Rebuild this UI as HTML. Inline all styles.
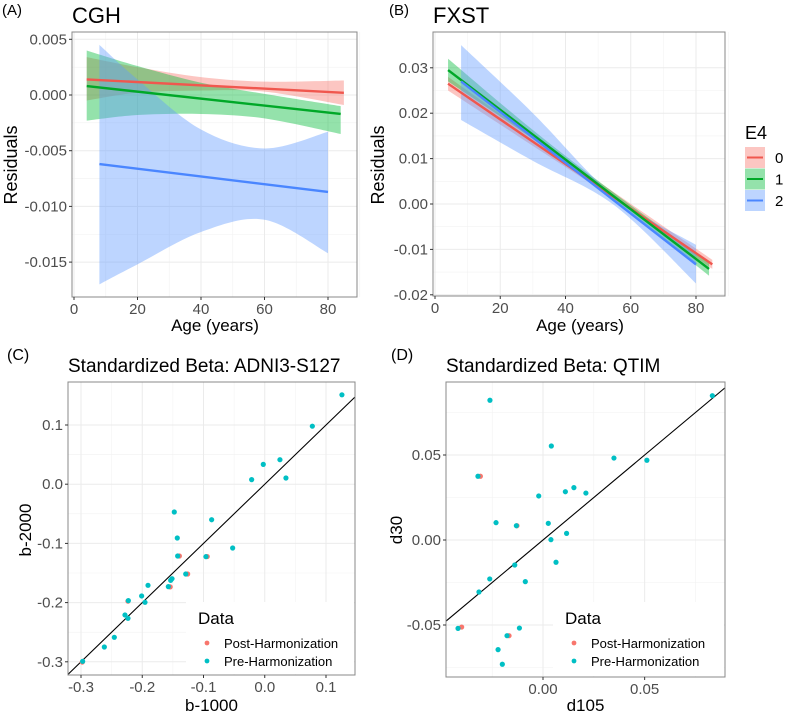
<!DOCTYPE html>
<html><head><meta charset="utf-8"><style>
body{margin:0;background:#fff;}
svg{display:block;font-family:"Liberation Sans",Arial,sans-serif;}
</style></head><body>
<svg id="fig" width="785" height="715" viewBox="0 0 785 715"></svg>
<script>
// ---------- data: panel A (CGH) ----------
const aGroups = ['0','1','2'];
const aLineAge = [[4,85],[4,84],[8,80]];
const aLineVal = [[0.0014,0.0002],[0.0008,-0.0017],[-0.0062,-0.0087]];
const aBandAge = [[4,20,40,60,85],[4,20,40,60,84],[8,20,40,60,80]];
const aBandUp = [[0.0034,0.0025,0.0016,0.0012,0.0013],[0.0040,0.0026,0.0011,0.0001,-0.0010],[0.0045,0.0014,-0.0031,-0.0048,-0.0033]];
const aBandLo = [[-0.0005,0.0002,0.0004,0.0003,-0.0009],[-0.0023,-0.0018,-0.0017,-0.0021,-0.0035],[-0.0170,-0.0152,-0.0123,-0.0112,-0.0142]];
const aYTicks = [0.005,0,-0.005,-0.01,-0.015];
const aYLabels = ['0.005','0.000','-0.005','-0.010','-0.015'];
const ageTicks = [0,20,40,60,80];
// ---------- data: panel B (FXST) ----------
const bLineAge = [[4,85],[4,84],[8,80]];
const bLineVal = [[0.0265,-0.0133],[0.0295,-0.0143],[0.027,-0.0133]];
const bBandAge = [[4,30,55,85],[4,30,55,84],[8,30,55,80]];
const bBandUp = [[0.028,0.0148,0.0025,-0.0123],[0.032,0.0163,0.0024,-0.0128],[0.035,0.020,0.0017,-0.009]];
const bBandLo = [[0.025,0.0128,0.0010,-0.0143],[0.027,0.0143,0.0008,-0.0158],[0.0185,0.0095,-0.0003,-0.0175]];
const bYTicks = [0.03,0.02,0.01,0,-0.01,-0.02];
const bYLabels = ['0.03','0.02','0.01','0.00','-0.01','-0.02'];
// ---------- data: panel C ----------
const cPreX = [0.126,0.0777,-0.0024,0.0248,0.0346,-0.0214,-0.1477,-0.0867,-0.1428,-0.1422,-0.096,-0.0524,-0.129,-0.1514,-0.1536,-0.1574,-0.1906,-0.201,-0.1955,-0.2227,-0.2233,-0.2282,-0.2456,-0.2619,-0.2973];
const cPreY = [0.151,0.098,0.0335,0.0414,0.0105,0.0077,-0.047,-0.060,-0.0909,-0.1213,-0.1224,-0.1078,-0.1517,-0.1596,-0.1624,-0.173,-0.1708,-0.1888,-0.1995,-0.1967,-0.2265,-0.2209,-0.2586,-0.275,-0.2992];
const cPostX = [-0.2995,-0.2250,-0.0955,-0.1560,-0.1410,-0.1275];
const cPostY = [-0.3005,-0.1975,-0.1222,-0.1735,-0.1213,-0.1517];
const cXTicks = [-0.3,-0.2,-0.1,0,0.1];
const cXLabels = ['-0.3','-0.2','-0.1','0.0','0.1'];
const cYTicks = [0.1,0,-0.1,-0.2,-0.3];
const cYLabels = ['0.1','0.0','-0.1','-0.2','-0.3'];
// ---------- data: panel D ----------
const dPreX = [0.0833,-0.0261,0.0041,0.0349,0.0511,-0.032,0.0152,0.011,0.0211,-0.0021,-0.0231,-0.0131,0.0026,0.0116,0.0039,0.0064,-0.0139,-0.0262,-0.0087,-0.0315,-0.0418,-0.0116,-0.0177,-0.0221,-0.02];
const dPreY = [0.0849,0.0822,0.0553,0.0482,0.0469,0.0375,0.0308,0.0284,0.0276,0.0259,0.0102,0.0084,0.0098,0.0039,0.0002,-0.0131,-0.0147,-0.0229,-0.0245,-0.0306,-0.052,-0.0518,-0.0563,-0.0645,-0.0731];
const dPostX = [-0.0405,-0.0313,-0.0133,-0.0172];
const dPostY = [-0.0512,0.0375,0.0084,-0.0563];
const dXTicks = [0,0.05];
const dXLabels = ['0.00','0.05'];
const dYTicks = [0.05,0,-0.05];
const dYLabels = ['0.05','0.00','-0.05'];

const COLS = ['#F8766D','#00BA38','#619CFF'];
const LCOLS = ['#F0574E','#00A828','#4A86FF'];
const TEAL = '#00BFC4';
const svg = document.getElementById('fig');
const NS = 'http://www.w3.org/2000/svg';
function mk(tag, attrs, parent){
  const e = document.createElementNS(NS, tag);
  for (const k in attrs) e.setAttribute(k, attrs[k]);
  (parent||svg).appendChild(e);
  return e;
}
function txt(s, x, y, size, anchor, fill, parent, rot){
  const t = mk('text', {x:x, y:y, 'font-size':size, 'text-anchor':anchor||'start', fill:fill||'#000'}, parent);
  if (rot) t.setAttribute('transform', 'rotate(-90 '+x+' '+y+')');
  t.textContent = s;
  return t;
}
function smoothPath(pts){
  let d = 'M'+pts[0][0]+','+pts[0][1];
  for (let i=0;i<pts.length-1;i++){
    const p0=pts[Math.max(0,i-1)], p1=pts[i], p2=pts[i+1], p3=pts[Math.min(pts.length-1,i+2)];
    const c1=[p1[0]+(p2[0]-p0[0])/6, p1[1]+(p2[1]-p0[1])/6];
    const c2=[p2[0]-(p3[0]-p1[0])/6, p2[1]-(p3[1]-p1[1])/6];
    d += ' C'+c1[0]+','+c1[1]+' '+c2[0]+','+c2[1]+' '+p2[0]+','+p2[1];
  }
  return d;
}
function panelFrame(g, box, xs, ys, xTicks, xLabels, yTicks, yLabels, xMinor, yMinor){
  mk('rect',{x:box.x0,y:box.y0,width:box.x1-box.x0,height:box.y1-box.y0,fill:'#fff'},g);
  xMinor.forEach(v=>mk('line',{x1:xs(v),x2:xs(v),y1:box.y0,y2:box.y1,stroke:'#F2F2F2','stroke-width':0.6},g));
  yMinor.forEach(v=>mk('line',{y1:ys(v),y2:ys(v),x1:box.x0,x2:box.x1,stroke:'#F2F2F2','stroke-width':0.6},g));
  xTicks.forEach(v=>mk('line',{x1:xs(v),x2:xs(v),y1:box.y0,y2:box.y1,stroke:'#EBEBEB','stroke-width':1},g));
  yTicks.forEach(v=>mk('line',{y1:ys(v),y2:ys(v),x1:box.x0,x2:box.x1,stroke:'#EBEBEB','stroke-width':1},g));
}
function panelAxes(g, box, xs, ys, xTicks, xLabels, yTicks, yLabels){
  mk('rect',{x:box.x0,y:box.y0,width:box.x1-box.x0,height:box.y1-box.y0,fill:'none',stroke:'#888','stroke-width':1},g);
  xTicks.forEach((v,i)=>{
    mk('line',{x1:xs(v),x2:xs(v),y1:box.y1,y2:box.y1+3,stroke:'#333'},g);
    const t=txt(xLabels[i], xs(v), box.y1+17, 15, 'middle', '#4D4D4D', g);
     
  });
  yTicks.forEach((v,i)=>{
    mk('line',{x1:box.x0-3,x2:box.x0,y1:ys(v),y2:ys(v),stroke:'#333'},g);
    const t=txt(yLabels[i], box.x0-5, ys(v)+5, 15, 'end', '#4D4D4D', g);
     
  });
}
function mids(arr){const r=[];for(let i=0;i<arr.length-1;i++)r.push((arr[i]+arr[i+1])/2);return r;}

// ---------- Panel A ----------
(function(){
  const g = mk('g',{});
   
  const box={x0:72,x1:357,y0:32,y1:297};
  const xs=v=>74+v*3.175, ys=v=>95-v/0.005*55.7;
  panelFrame(g,box,xs,ys,ageTicks,[],aYTicks,[],mids(ageTicks).concat([90]),mids(aYTicks));
  for(let k=0;k<3;k++){
    const up=aBandAge[k].map((a,i)=>[xs(a),ys(aBandUp[k][i])]);
    const lo=aBandAge[k].map((a,i)=>[xs(a),ys(aBandLo[k][i])]).reverse();
    const d=smoothPath(up)+' L'+lo[0][0]+','+lo[0][1]+smoothPath(lo).replace(/^M[^C]*/,' ')+' Z';
    const b=mk('path',{d:d,fill:COLS[k],'fill-opacity':0.42,stroke:'none'},g);
     
  }
  for(let k=0;k<3;k++){
    const l=mk('line',{x1:xs(aLineAge[k][0]),y1:ys(aLineVal[k][0]),x2:xs(aLineAge[k][1]),y2:ys(aLineVal[k][1]),stroke:LCOLS[k],'stroke-width':2.4},g);
     
  }
  panelAxes(g,box,xs,ys,ageTicks,['0','20','40','60','80'],aYTicks,aYLabels);
  let t=txt('(A)',2,15,15,'start','#000',g);  
  t=txt('CGH',72,23,22,'start','#000',g);  
  t=txt('Residuals',17,165,18,'middle','#000',g,true);  
  t=txt('Age (years)',215,331,17,'middle','#000',g);  
})();

// ---------- Panel B ----------
(function(){
  const g = mk('g',{});
   
  const box={x0:433,x1:725,y0:32,y1:296};
  const xs=v=>435+v*3.2625, ys=v=>204-v/0.01*45.4;
  panelFrame(g,box,xs,ys,ageTicks,[],bYTicks,[],mids(ageTicks).concat([90]),mids(bYTicks));
  for(let k=0;k<3;k++){
    const up=bBandAge[k].map((a,i)=>[xs(a),ys(bBandUp[k][i])]);
    const lo=bBandAge[k].map((a,i)=>[xs(a),ys(bBandLo[k][i])]).reverse();
    const d=smoothPath(up)+' L'+lo[0][0]+','+lo[0][1]+smoothPath(lo).replace(/^M[^C]*/,' ')+' Z';
    const b=mk('path',{d:d,fill:COLS[k],'fill-opacity':0.42,stroke:'none'},g);
     
  }
  for(let k=0;k<3;k++){
    const l=mk('line',{x1:xs(bLineAge[k][0]),y1:ys(bLineVal[k][0]),x2:xs(bLineAge[k][1]),y2:ys(bLineVal[k][1]),stroke:LCOLS[k],'stroke-width':2.4},g);
     
  }
  panelAxes(g,box,xs,ys,ageTicks,['0','20','40','60','80'],bYTicks,bYLabels);
  let t=txt('(B)',389,15,15,'start','#000',g);  
  t=txt('FXST',433,23,22,'start','#000',g);  
  t=txt('Residuals',384,165,18,'middle','#000',g,true);  
  t=txt('Age (years)',580,331,17,'middle','#000',g);  
  const lg=mk('g',{},g);  
  t=txt('E4',745,139,18,'start','#000',lg);   
  for(let k=0;k<3;k++){
    const y=147+k*21.5;
    const e=mk('g',{},lg);  
    mk('rect',{x:745,y:y,width:20,height:21,fill:COLS[k],'fill-opacity':0.42},e);
    mk('line',{x1:747,x2:763,y1:y+10.5,y2:y+10.5,stroke:LCOLS[k],'stroke-width':2},e);
    txt(aGroups[k],775,y+16,15,'start','#000',e);
  }
})();

// ---------- scatter panel builder ----------
function scatterPanel(opts){
  const g=mk('g',{});  
  const box=opts.box, xs=opts.xs, ys=opts.ys;
  panelFrame(g,box,xs,ys,opts.xT,[],opts.yT,[],opts.xMinor,opts.yMinor);
  const cp=mk('clipPath',{id:opts.name+'-clip'},g);
  mk('rect',{x:box.x0,y:box.y0,width:box.x1-box.x0,height:box.y1-box.y0},cp);
  const l=mk('line',{x1:xs(opts.lineLo),y1:ys(opts.lineLo),x2:xs(opts.lineHi),y2:ys(opts.lineHi),stroke:'#000','stroke-width':1.1,'clip-path':'url(#'+opts.name+'-clip)'},g);
   
  const lg=mk('g',{},g);  
  mk('rect',{x:opts.leg.x-12,y:opts.leg.y-22,width:box.x1-opts.leg.x+11,height:box.y1-opts.leg.y+21,fill:'#fff'},lg);
  opts.postX.forEach((v,i)=>{
    const c=mk('circle',{cx:xs(v)+1,cy:ys(opts.postY[i]),r:2.6,fill:'#F8766D'},g);
     
  });
  opts.preX.forEach((v,i)=>{
    const c=mk('circle',{cx:xs(v),cy:ys(opts.preY[i]),r:2.6,fill:TEAL},g);
     
  });
  txt('Data',opts.leg.x,opts.leg.y,17,'start','#000',lg);
  const e1=mk('g',{},lg);  
  mk('circle',{cx:opts.leg.x+9,cy:opts.leg.y+19,r:2.4,fill:'#F8766D'},e1);
  txt('Post-Harmonization',opts.leg.x+26,opts.leg.y+24,13,'start','#000',e1);
  const e2=mk('g',{},lg);  
  mk('circle',{cx:opts.leg.x+9,cy:opts.leg.y+37,r:2.4,fill:TEAL},e2);
  txt('Pre-Harmonization',opts.leg.x+26,opts.leg.y+42,13,'start','#000',e2);
  panelAxes(g,box,xs,ys,opts.xT,opts.xL,opts.yT,opts.yL);
  let t=txt(opts.tag,opts.tagX,360,16,'start','#000',g);  
  t=txt(opts.title,box.x0,372,19,'start','#000',g);  
  t=txt(opts.yTitle,opts.yTitleX,530,17,'middle','#000',g,true);  
  t=txt(opts.xTitle,(box.x0+box.x1)/2,711,17,'middle','#000',g);  
}
scatterPanel({name:'panel-c-adni3',box:{x0:68,x1:355,y0:382,y1:675},
  xs:v=>81+(v+0.3)*612.5, ys:v=>425-(v-0.1)*592,
  xT:cXTicks,xL:cXLabels,yT:cYTicks,yL:cYLabels,
  xMinor:[-0.25,-0.15,-0.05,0.05],yMinor:[0.05,-0.05,-0.15,-0.25],
  lineLo:-0.4,lineHi:0.2,preX:cPreX,preY:cPreY,postX:cPostX,postY:cPostY,
  leg:{x:198,y:624},tag:'(C)',tagX:7,title:'Standardized Beta: ADNI3-S127',yTitle:'b-2000',yTitleX:31,xTitle:'b-1000'});
scatterPanel({name:'panel-d-qtim',box:{x0:446,x1:725,y0:382,y1:677},
  xs:v=>543+v*2033, ys:v=>540-v*1700,
  xT:dXTicks,xL:dXLabels,yT:dYTicks,yL:dYLabels,
  xMinor:[-0.025,0.025,0.075],yMinor:[0.075,0.025,-0.025,-0.075],
  lineLo:-0.1,lineHi:0.12,preX:dPreX,preY:dPreY,postX:dPostX,postY:dPostY,
  leg:{x:565,y:624},tag:'(D)',tagX:391,title:'Standardized Beta: QTIM',yTitle:'d30',yTitleX:402,xTitle:'d105'});
</script>
</body></html>
